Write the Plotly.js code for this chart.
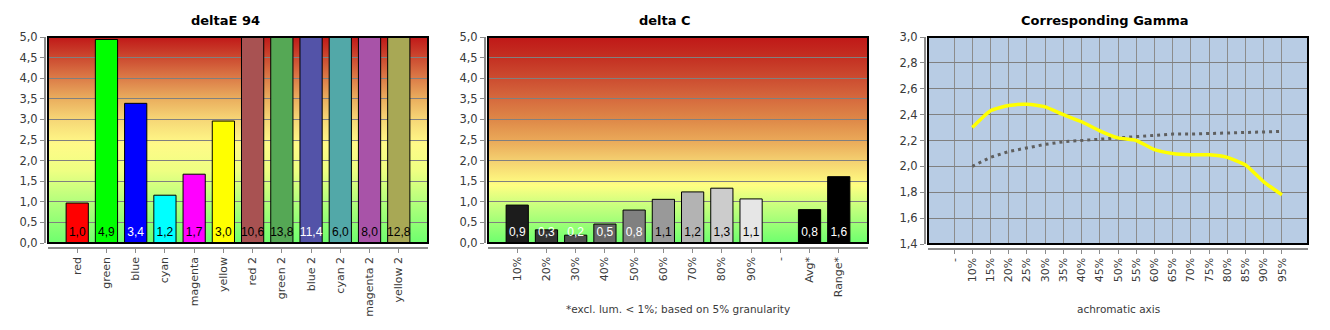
<!DOCTYPE html>
<html>
<head>
<meta charset="utf-8">
<script src="https://cdn.plot.ly/plotly-3.0.1.min.js"></script>
<style>
html,body{margin:0;padding:0;background:#fff;}
#chart{width:1330px;height:330px;}
</style>
</head>
<body>
<div id="chart"></div>
<script>
// ---------- data ----------
var deltaECategories = ['red','green','blue','cyan','magenta','yellow','red 2','green 2','blue 2','cyan 2','magenta 2','yellow 2'];
var deltaEValues = [0.97, 4.94, 3.39, 1.16, 1.67, 2.96, 10.6, 13.8, 11.4, 6.0, 8.0, 12.8];
var deltaEColors = ['#ff0000','#00ff00','#0000ff','#00ffff','#ff00ff','#ffff00','#a85252','#55a855','#5353a8','#52a8a8','#a853a8','#a8a855'];
var deltaETextColors = ['#000','#000','#fff','#000','#000','#000','#000','#000','#fff','#000','#000','#000'];

var deltaCCategories = ['10%','20%','30%','40%','50%','60%','70%','80%','90%','-','Avg*','Range*'];
var deltaCValues = [0.92, 0.32, 0.19, 0.46, 0.80, 1.06, 1.24, 1.33, 1.07, null, 0.81, 1.61];
var deltaCColors = ['#1c1c1c','#333333','#4d4d4d','#666666','#808080','#999999','#b3b3b3','#cccccc','#e6e6e6','#000000','#000000','#000000'];
var deltaCTextColors = ['#fff','#fff','#fff','#fff','#fff','#000','#000','#000','#000','#fff','#fff','#fff'];

var gammaCategories = ['-','10%','15%','20%','25%','30%','35%','40%','45%','50%','55%','60%','65%','70%','75%','80%','85%','90%','95%'];
var gammaMeasured = [null, 2.30, 2.43, 2.47, 2.48, 2.46, 2.40, 2.345, 2.275, 2.22, 2.20, 2.13, 2.10, 2.09, 2.09, 2.07, 2.01, 1.88, 1.78];
var gammaReference = [null, 2.00, 2.07, 2.115, 2.145, 2.17, 2.19, 2.20, 2.215, 2.225, 2.235, 2.24, 2.25, 2.25, 2.255, 2.26, 2.265, 2.27, 2.27];

var yTicks5 = [0,0.5,1,1.5,2,2.5,3,3.5,4,4.5,5];
var yTicksGamma = [1.4,1.6,1.8,2.0,2.2,2.4,2.6,2.8,3.0];

// ---------- helpers ----------
var W = 1330, H = 330;
function px(x){ return x / W; }
function py(y){ return (H - y) / H; }
function fmt(v){ return v == null ? '' : v.toFixed(1).replace('.', ','); }

function gradientImage(stops, x0, x1, y0, y1){
  var s = "<svg xmlns='http://www.w3.org/2000/svg' width='20' height='200' viewBox='0 0 20 200' preserveAspectRatio='none'>" +
    "<defs><linearGradient id='g' x1='0' y1='1' x2='0' y2='0'>";
  stops.forEach(function(st){ s += "<stop offset='" + st[0] + "' stop-color='" + st[1] + "'/>"; });
  s += "</linearGradient></defs><rect x='0' y='0' width='20' height='200' fill='url(#g)'/></svg>";
  return {
    source: 'data:image/svg+xml;charset=utf-8,' + encodeURIComponent(s),
    xref: 'paper', yref: 'paper',
    x: px(x0), y: py(y0), sizex: px(x1) - px(x0), sizey: py(y0) - py(y1),
    xanchor: 'left', yanchor: 'top', sizing: 'stretch', layer: 'below'
  };
}

var FONT = 'DejaVu Sans, Verdana, sans-serif';
var LABELFONT = 'Liberation Sans Narrow, Liberation Sans, Arial Narrow, sans-serif';
var tickFont = {family: FONT, size: 11.5, color: '#3a3a3a'};
var xTickFont = {family: FONT, size: 11, color: '#3a3a3a'};

// panel geometry (pixels)
var P = [
  {x0: 48, x1: 428, y0: 37, y1: 243, yline: 44, xline: 247},
  {x0: 488, x1: 868, y0: 37, y1: 243, yline: 484, xline: 247},
  {x0: 928, x1: 1308, y0: 37, y1: 244, yline: 924, xline: 248}
];

// ---------- traces ----------
var traces = [];
traces.push({
  type: 'bar', x: deltaECategories, y: deltaEValues, xaxis: 'x', yaxis: 'y',
  width: 0.76, marker: {color: deltaEColors, line: {color: '#000', width: 1}},
  hoverinfo: 'skip', showlegend: false
});
traces.push({
  type: 'scatter', mode: 'markers+text', x: deltaECategories, y: deltaEValues.map(function(){return 0;}),
  marker: {size: 5, opacity: 0}, 
  text: deltaEValues.map(fmt), textposition: 'top center', cliponaxis: false,
  textfont: {family: LABELFONT, size: 12, color: deltaETextColors},
  xaxis: 'x', yaxis: 'y', hoverinfo: 'skip', showlegend: false
});
traces.push({
  type: 'bar', x: deltaCCategories, y: deltaCValues, xaxis: 'x2', yaxis: 'y2',
  width: 0.76, marker: {color: deltaCColors, line: {color: '#000', width: 1}},
  hoverinfo: 'skip', showlegend: false
});
traces.push({
  type: 'scatter', mode: 'markers+text', x: deltaCCategories, y: deltaCValues.map(function(v){return v == null ? null : 0;}),
  marker: {size: 5, opacity: 0},
  text: deltaCValues.map(fmt), textposition: 'top center', cliponaxis: false,
  textfont: {family: LABELFONT, size: 12, color: deltaCTextColors},
  xaxis: 'x2', yaxis: 'y2', hoverinfo: 'skip', showlegend: false
});
traces.push({
  type: 'scatter', mode: 'lines', x: gammaCategories, y: gammaReference, xaxis: 'x3', yaxis: 'y3',
  line: {color: '#5f5f5f', width: 3, dash: '3px,4px'}, connectgaps: false,
  hoverinfo: 'skip', showlegend: false
});
traces.push({
  type: 'scatter', mode: 'lines', x: gammaCategories, y: gammaMeasured, xaxis: 'x3', yaxis: 'y3',
  line: {color: '#ffff00', width: 3.5, shape: 'spline', smoothing: 0.5}, connectgaps: false,
  hoverinfo: 'skip', showlegend: false
});

// ---------- axes ----------
function xAxis(p, cats, nSpan, grid){
  return {
    domain: [px(p.x0), px(p.x1)], anchor: 'free', position: py(p.xline),
    type: 'category', categoryorder: 'array', categoryarray: cats,
    range: nSpan, fixedrange: true,
    showline: true, linecolor: '#8c8c8c', linewidth: 1.5,
    ticks: 'outside', ticklen: 4, tickcolor: '#8c8c8c', tickwidth: 1,
    tickangle: -90, tickfont: xTickFont,
    showgrid: grid, gridcolor: '#8c8c8c', gridwidth: 1, zeroline: false
  };
}
function yAxis(p, ticks, rng){
  return {
    domain: [py(p.y1), py(p.y0)], anchor: 'free', position: px(p.yline),
    range: rng, fixedrange: true, tickmode: 'array', tickvals: ticks,
    ticktext: ticks.map(fmt),
    showline: true, linecolor: '#8c8c8c', linewidth: 1.5,
    ticks: 'outside', ticklen: 4, tickcolor: '#8c8c8c', tickwidth: 1,
    tickfont: tickFont,
    showgrid: true, gridcolor: '#808080', gridwidth: 1, zeroline: false
  };
}

var layout = {
  width: W, height: H,
  margin: {l: 0, r: 0, t: 0, b: 0},
  paper_bgcolor: '#ffffff', plot_bgcolor: 'rgba(0,0,0,0)',
  separators: ', ',
  bargap: 0.2,
  showlegend: false,
  xaxis: xAxis(P[0], deltaECategories, [-1, 12], false),
  yaxis: yAxis(P[0], yTicks5, [0, 5]),
  xaxis2: xAxis(P[1], deltaCCategories, [-1, 12], false),
  yaxis2: yAxis(P[1], yTicks5, [0, 5]),
  xaxis3: xAxis(P[2], gammaCategories, [-1.43, 19.43], true),
  yaxis3: yAxis(P[2], yTicksGamma, [1.4, 3.0]),
  images: [
    gradientImage([[0,'#6eff6e'],[0.2,'#b4ff7c'],[0.35,'#eeff82'],[0.48,'#fffa88'],[0.6,'#f6d676'],[0.7,'#eaae5e'],[0.8,'#dc7c48'],[0.9,'#cc4a30'],[1,'#c01818']], P[0].x0, P[0].x1, P[0].y0, P[0].y1),
    gradientImage([[0,'#6eff6e'],[0.18,'#c8ff7e'],[0.28,'#fffe82'],[0.4,'#f4d070'],[0.5,'#eaa858'],[0.6,'#de8848'],[0.7,'#d66a3e'],[0.8,'#cc4c30'],[0.9,'#c43022'],[1,'#c01818']], P[1].x0, P[1].x1, P[1].y0, P[1].y1)
  ],
  shapes: [],
  annotations: []
};

// plot-area background for gamma and frames
layout.shapes.push({type: 'rect', xref: 'paper', yref: 'paper', x0: px(P[2].x0), x1: px(P[2].x1), y0: py(P[2].y1), y1: py(P[2].y0),
  fillcolor: '#b8cce4', line: {width: 0}, layer: 'below'});
P.forEach(function(p){
  layout.shapes.push({type: 'rect', xref: 'paper', yref: 'paper', x0: px(p.x0), x1: px(p.x1), y0: py(p.y1), y1: py(p.y0),
    fillcolor: 'rgba(0,0,0,0)', line: {color: '#000', width: 2}, layer: 'above'});
});

// titles
var titles = ['deltaE 94', 'delta C', 'Corresponding Gamma'];
[225, 665, 1105].forEach(function(cx, i){
  layout.annotations.push({text: '<b>' + titles[i] + '</b>', xref: 'paper', yref: 'paper', x: px(cx), y: py(20.5),
    xanchor: 'center', yanchor: 'middle', showarrow: false, font: {family: FONT, size: 13, color: '#000'}});
});
layout.annotations.push({text: '*excl. lum. &lt; 1%; based on 5% granularity', xref: 'paper', yref: 'paper', x: px(678), y: py(309),
  xanchor: 'center', yanchor: 'middle', showarrow: false, font: {family: FONT, size: 10.5, color: '#3a3a3a'}});
layout.annotations.push({text: 'achromatic axis', xref: 'paper', yref: 'paper', x: px(1118), y: py(309),
  xanchor: 'center', yanchor: 'middle', showarrow: false, font: {family: FONT, size: 10.5, color: '#3a3a3a'}});

Plotly.newPlot('chart', traces, layout, {staticPlot: true, displayModeBar: false});
</script>
</body>
</html>
